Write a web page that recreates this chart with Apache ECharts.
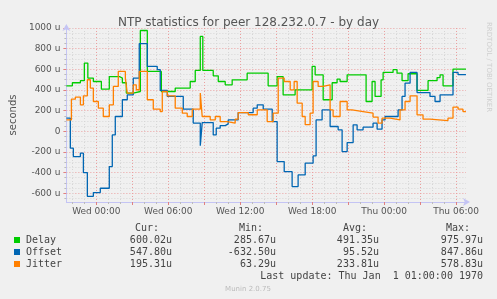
<!DOCTYPE html>
<html>
<head>
<meta charset="utf-8">
<style>
  html, body { margin: 0; padding: 0; background: #f0f0f0; }
  #chart { width: 497px; height: 299px; }
</style>
<script src="https://cdn.jsdelivr.net/npm/echarts@6/dist/echarts.min.js"></script>
</head>
<body>
<div id="chart"></div>
<script>
// times are hours relative to Wed 00:00, values are microseconds
// each point is where the value changes (step lines)
const delayHours = [-2.5, -2.0, -1.33, -1.0, -0.71, -0.25, 0.42, 1.08, 1.92, 2.17, 2.5, 3.08, 3.67, 4.25, 5.42, 6.58, 7.83, 8.25, 8.67, 8.88, 9.75, 10.17, 10.75, 11.33, 12.58, 14.33, 15.08, 15.58, 16.58, 18.0, 18.25, 18.92, 19.67, 20.08, 20.33, 20.92, 22.5, 23.0, 23.25, 23.75, 23.92, 24.75, 25.08, 25.5, 26.0, 26.75, 27.67, 28.42, 28.67, 28.92, 29.75, 30.83]
const delayValues = [440, 470, 490, 660, 515, 482, 408, 530, 515, 470, 370, 385, 976, 579, 385, 418, 482, 589, 918, 589, 537, 482, 450, 498, 563, 440, 530, 353, 401, 628, 547, 305, 470, 505, 482, 547, 288, 482, 337, 498, 570, 596, 563, 490, 557, 395, 490, 520, 547, 440, 602, 600]

const offsetHours = [-2.5, -2.17, -1.92, -1.33, -1.08, -0.75, -0.25, 0.33, 1.08, 1.33, 1.58, 2.17, 2.58, 3.08, 3.58, 4.25, 5.08, 5.33, 5.92, 7.25, 8.08, 8.67, 8.83, 9.75, 10.0, 10.33, 10.75, 11.0, 11.83, 13.08, 13.42, 13.92, 14.67, 15.08, 15.67, 16.33, 16.83, 17.42, 18.08, 18.33, 18.83, 19.5, 20.17, 20.5, 20.92, 21.42, 21.75, 22.25, 23.08, 23.42, 23.83, 24.08, 25.17, 25.5, 25.75, 26.17, 26.75, 27.83, 28.25, 28.67, 29.75, 30.17, 30.83]
const offsetValues = [127, -164, -245, -212, -400, -630, -594, -552, -342, -35, 143, 305, 353, 515, 848, 628, 596, 395, 337, 214, 79, -140, 84, -35, 30, 55, 72, 110, 181, 224, 256, 214, 94, -294, -391, -536, -423, -309, -239, 110, 207, 46, 14, -197, -110, 62, 14, 40, 78, 20, 110, 143, 207, 337, 466, 570, 375, 337, 288, 353, 570, 548, 548]

const jitterHours = [-2.5, -2.08, -1.75, -1.33, -1.08, -0.75, -0.5, -0.25, 0.17, 0.58, 1.08, 1.42, 1.83, 2.42, 2.58, 3.08, 3.33, 3.58, 4.25, 4.75, 5.33, 5.5, 5.92, 6.58, 7.17, 7.58, 8.0, 8.67, 8.83, 9.5, 9.92, 10.33, 10.92, 11.58, 11.83, 12.67, 13.42, 14.25, 14.75, 15.17, 15.67, 16.17, 16.5, 16.75, 17.17, 17.42, 17.83, 18.08, 18.5, 18.92, 19.5, 19.75, 20.33, 20.92, 21.33, 22.25, 23.08, 23.5, 23.83, 24.5, 25.33, 25.75, 26.17, 26.75, 27.25, 27.83, 29.33, 29.75, 30.17, 30.58, 30.83]
const jitterValues = [110, 311, 331, 256, 343, 499, 418, 288, 224, 143, 256, 434, 579, 515, 370, 450, 402, 579, 305, 214, 191, 385, 343, 224, 175, 143, 214, 370, 143, 110, 143, 94, 78, 117, 181, 160, 207, 94, 175, 515, 482, 401, 482, 272, 143, 64, 175, 482, 434, 450, 207, 143, 288, 207, 191, 175, 137, 78, 127, 110, 207, 288, 343, 159, 117, 104, 127, 234, 214, 191, 195]

// axis ticks
const xLabelHours = [0, 6, 12, 18, 24, 30]
const xLabels = ['Wed 00:00', 'Wed 06:00', 'Wed 12:00', 'Wed 18:00', 'Thu 00:00', 'Thu 06:00']
const xMajorHours = [0, 3, 6, 9, 12, 15, 18, 21, 24, 27, 30]
const xMinorHours = [-2, -1, 1, 2, 4, 5, 7, 8, 10, 11, 13, 14, 16, 17, 19, 20, 22, 23, 25, 26, 28, 29]
const yLabelValues = [-600, -400, -200, 0, 200, 400, 600, 800, 1000]
const yLabels = ['-600 u', '-400 u', '-200 u', '0', '200 u', '400 u', '600 u', '800 u', '1000 u']
const yMinorValues = [-650, -550, -500, -450, -350, -300, -250, -150, -100, -50, 50, 100, 150, 250, 300, 350, 450, 500, 550, 650, 700, 750, 850, 900, 950]

// legend table
const seriesNames = ['Delay', 'Offset', 'Jitter']
const seriesColors = ['#00cc00', '#0066b3', '#ff8000']
const curValues = ['600.02u', '547.80u', '195.31u']
const minValues = ['285.67u', '-632.50u', '63.29u']
const avgValues = ['491.35u', '95.52u', '233.81u']
const maxValues = ['975.97u', '847.86u', '578.83u']

const chart = echarts.init(document.getElementById('chart'))

const zip = (xs, ys) => xs.map((x, i) => [x, ys[i]])

const minorGrid = { show: true, lineStyle: { color: '#d6d6d6', type: [1, 2], width: 1 } }
const majorGrid = { show: true, lineStyle: { color: '#eba0a0', type: [1, 2], width: 1 } }
const axisColor = '#c4c4f4'
const mono = 'DejaVu Sans Mono'

// the table under the plot
const graphics = []
const headers = [['Cur:', 159], ['Min:', 263], ['Avg:', 367], ['Max:', 470]]
headers.forEach(h => {
    graphics.push({ type: 'text', x: h[1], y: 228, style: { text: h[0], font: '10px ' + mono, fill: '#444', textAlign: 'right', textVerticalAlign: 'middle' } })
})
const columns = [[curValues, 172], [minValues, 276], [avgValues, 379], [maxValues, 483]]
seriesNames.forEach((name, i) => {
    const y = 240 + i * 12
    graphics.push({ type: 'rect', shape: { x: 14, y: y - 3, width: 6, height: 6 }, style: { fill: seriesColors[i] } })
    graphics.push({ type: 'text', x: 26, y: y, style: { text: name, font: '10px ' + mono, fill: '#444', textVerticalAlign: 'middle' } })
    columns.forEach(c => {
        graphics.push({ type: 'text', x: c[1], y: y, style: { text: c[0][i], font: '10px ' + mono, fill: '#444', textAlign: 'right', textVerticalAlign: 'middle' } })
    })
})
graphics.push({ type: 'text', x: 483, y: 276, style: { text: 'Last update: Thu Jan  1 01:00:00 1970', font: '10px ' + mono, fill: '#444', textAlign: 'right', textVerticalAlign: 'middle' } })
graphics.push({ type: 'text', x: 248, y: 289, style: { text: 'Munin 2.0.75', font: '7px DejaVu Sans', fill: '#bbb', textAlign: 'center', textVerticalAlign: 'middle' } })
graphics.push({ type: 'text', x: 489, y: 22, rotation: -Math.PI / 2, style: { text: 'RRDTOOL / TOBI OETIKER', font: '7px DejaVu Sans', fill: '#cfcfcf', textVerticalAlign: 'middle' } })

const option = {
    backgroundColor: '#f0f0f0',
    animation: false,
    title: {
        text: 'NTP statistics for peer 128.232.0.7 - by day',
        left: 'center',
        top: 12,
        textStyle: { fontFamily: 'DejaVu Sans', fontSize: 12, fontWeight: 'normal', color: '#555' }
    },
    grid: { left: 66, right: 31, top: 28, bottom: 97 },
    xAxis: [
        {
            type: 'value', min: -2.5, max: 30.8333, position: 'bottom',
            axisLine: { show: true, onZero: false, lineStyle: { color: axisColor }, symbol: ['none', 'arrow'], symbolSize: [6, 7], symbolOffset: [0, 4] },
            axisTick: { show: true, length: 2, lineStyle: { color: '#bbb' }, customValues: xMinorHours },
            axisLabel: {
                customValues: xLabelHours, margin: 5, fontFamily: 'DejaVu Sans', fontSize: 9, color: '#555',
                formatter: v => xLabels[xLabelHours.indexOf(v)]
            },
            splitLine: minorGrid
        },
        {
            type: 'value', min: -2.5, max: 30.8333, position: 'bottom',
            axisLine: { show: false, onZero: false },
            axisTick: { show: true, length: 3, lineStyle: { color: '#e08080' }, customValues: xMajorHours },
            axisLabel: { show: false },
            splitLine: majorGrid
        }
    ],
    yAxis: [
        {
            type: 'value', min: -685, max: 1000, position: 'left',
            name: 'seconds', nameLocation: 'middle', nameGap: 46, nameRotate: 90,
            nameTextStyle: { fontFamily: 'DejaVu Sans', fontSize: 10, color: '#555' },
            axisLine: { show: true, onZero: false, lineStyle: { color: axisColor }, symbol: ['none', 'arrow'], symbolSize: [6, 7], symbolOffset: [0, 4] },
            axisTick: { show: true, length: 2, lineStyle: { color: '#bbb' }, customValues: yMinorValues },
            axisLabel: {
                customValues: yLabelValues, margin: 6, fontFamily: 'DejaVu Sans', fontSize: 9, color: '#555',
                formatter: v => yLabels[yLabelValues.indexOf(v)]
            },
            splitLine: minorGrid
        },
        {
            type: 'value', min: -685, max: 1000, position: 'left',
            axisLine: { show: false, onZero: false },
            axisTick: { show: true, length: 3, lineStyle: { color: '#e08080' }, customValues: yLabelValues },
            axisLabel: { show: false },
            splitLine: majorGrid
        }
    ],
    series: [
        { name: seriesNames[0], type: 'line', step: 'end', symbol: 'none', data: zip(delayHours, delayValues), lineStyle: { color: seriesColors[0], width: 1.3 }, itemStyle: { color: seriesColors[0] } },
        { name: seriesNames[1], type: 'line', step: 'end', symbol: 'none', data: zip(offsetHours, offsetValues), lineStyle: { color: seriesColors[1], width: 1.3 }, itemStyle: { color: seriesColors[1] } },
        { name: seriesNames[2], type: 'line', step: 'end', symbol: 'none', data: zip(jitterHours, jitterValues), lineStyle: { color: seriesColors[2], width: 1.3 }, itemStyle: { color: seriesColors[2] } }
    ],
    graphic: graphics
}

chart.setOption(option)
</script>
</body>
</html>
